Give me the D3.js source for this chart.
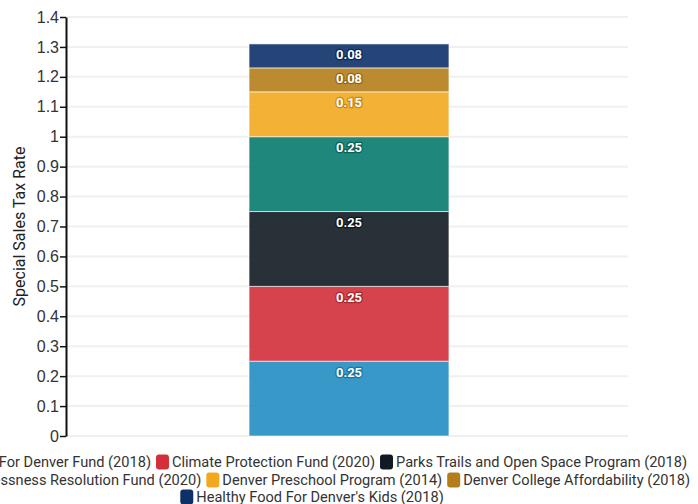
<!DOCTYPE html>
<html>
<head>
<meta charset="utf-8">
<script src="https://cdn.jsdelivr.net/npm/d3@7"></script>
<style>
  body { margin: 0; background: #fff; }
  svg { font-family: Roboto, "Noto Sans", sans-serif; display: block; }
  .axis path, .axis line { stroke: #111; }
  .axis text { font-size: 16px; fill: #333; }
</style>
</head>
<body>
<div id="chart"></div>
<script>
const width = 698;
const height = 504;

// data
const categories = ["Denver"];
const fundNames = [
    "Caring For Denver Fund (2018)",
    "Climate Protection Fund (2020)",
    "Parks Trails and Open Space Program (2018)",
    "Homelessness Resolution Fund (2020)",
    "Denver Preschool Program (2014)",
    "Denver College Affordability (2018)",
    "Healthy Food For Denver's Kids (2018)"
];
const fundRates = [0.25, 0.25, 0.25, 0.25, 0.15, 0.08, 0.08];
const fundColors = ["#228ec3", "#d32f3a", "#111a22", "#087a6e", "#f2a91f", "#b57d1a", "#0d3068"];
const yTicks = [0, 0.1, 0.2, 0.3, 0.4, 0.5, 0.6, 0.7, 0.8, 0.9, 1, 1.1, 1.2, 1.3, 1.4];

const plot = { left: 66, right: 632, top: 17, bottom: 436, gridRight: 628 };

let svg = d3.select("#chart")
    .append("svg")
    .attr("width", width)
    .attr("height", height);

let x = d3.scaleBand()
    .domain(categories)
    .range([plot.left, plot.right])
    .padding(0.478);

let y = d3.scaleLinear()
    .domain([0, 1.4])
    .range([plot.bottom, plot.top]);

// gridlines
svg.append("g")
    .selectAll("line")
    .data(yTicks)
    .join("line")
    .attr("x1", plot.left)
    .attr("x2", plot.gridRight)
    .attr("y1", d => y(d))
    .attr("y2", d => y(d))
    .attr("stroke", "#f0f0f0")
    .attr("stroke-width", 2);

// stacked segments
let segments = [];
let acc = 0;
fundRates.forEach((v, i) => {
    segments.push({ name: fundNames[i], value: v, y0: acc, y1: acc + v, color: fundColors[i] });
    acc += v;
});

svg.append("g")
    .selectAll("rect")
    .data(segments)
    .join("rect")
    .attr("x", x("Denver"))
    .attr("width", x.bandwidth())
    .attr("y", d => y(d.y1))
    .attr("height", d => y(d.y0) - y(d.y1))
    .attr("fill", d => d.color)
    .attr("fill-opacity", 0.9)
    .attr("stroke", "rgba(255,255,255,0.6)")
    .attr("stroke-width", 1);

// segment labels
svg.append("g")
    .selectAll("text")
    .data(segments)
    .join("text")
    .attr("x", x("Denver") + x.bandwidth() / 2)
    .attr("y", d => y(d.y1) + 15.5)
    .attr("text-anchor", "middle")
    .attr("font-size", 13)
    .attr("font-weight", "bold")
    .attr("fill", "#fff")
    .attr("stroke", d => d3.color(d.color).darker(0.6))
    .attr("stroke-width", 2.5)
    .attr("stroke-linejoin", "round")
    .attr("paint-order", "stroke")
    .text(d => d3.format(".2f")(d.value));

// y axis
svg.append("g")
    .attr("class", "axis")
    .attr("transform", "translate(" + plot.left + ",0)")
    .call(d3.axisLeft(y).tickValues(yTicks).tickSize(6).tickSizeOuter(0).tickFormat(d3.format("~g")))
    .call(g => g.select(".domain").attr("stroke-width", 2))
    .call(g => g.selectAll(".tick line").attr("stroke-width", 1.5))
    .call(g => g.selectAll(".tick text").attr("x", -7));

svg.append("text")
    .attr("transform", "translate(25," + ((plot.top + plot.bottom) / 2) + ") rotate(-90)")
    .attr("text-anchor", "middle")
    .attr("font-size", 16)
    .attr("fill", "#222")
    .text("Special Sales Tax Rate");

// legend, wrapped into rows and centred
const legendCenter = 312;
const legendRows = [[0, 1, 2], [3, 4, 5], [6]];
const legendRowY = [462, 480, 497];
const swatch = 13, swatchGap = 3, itemGap = 5;

let legend = svg.append("g").attr("font-size", 14.6).attr("fill", "#333");

legendRows.forEach((row, r) => {
    let items = row.map(i => {
        let g = legend.append("g");
        g.append("rect")
            .attr("width", swatch)
            .attr("height", 15)
            .attr("rx", 3)
            .attr("y", -7.5)
            .attr("fill", fundColors[i]);
        let t = g.append("text")
            .attr("x", swatch + swatchGap)
            .attr("dy", "0.35em")
            .text(fundNames[i]);
        let w = swatch + swatchGap + t.node().getComputedTextLength();
        return { g, w };
    });
    let total = d3.sum(items, d => d.w) + itemGap * (items.length - 1);
    let cx = legendCenter - total / 2;
    items.forEach(it => {
        it.g.attr("transform", "translate(" + cx + "," + legendRowY[r] + ")");
        cx += it.w + itemGap;
    });
});
</script>
</body>
</html>
